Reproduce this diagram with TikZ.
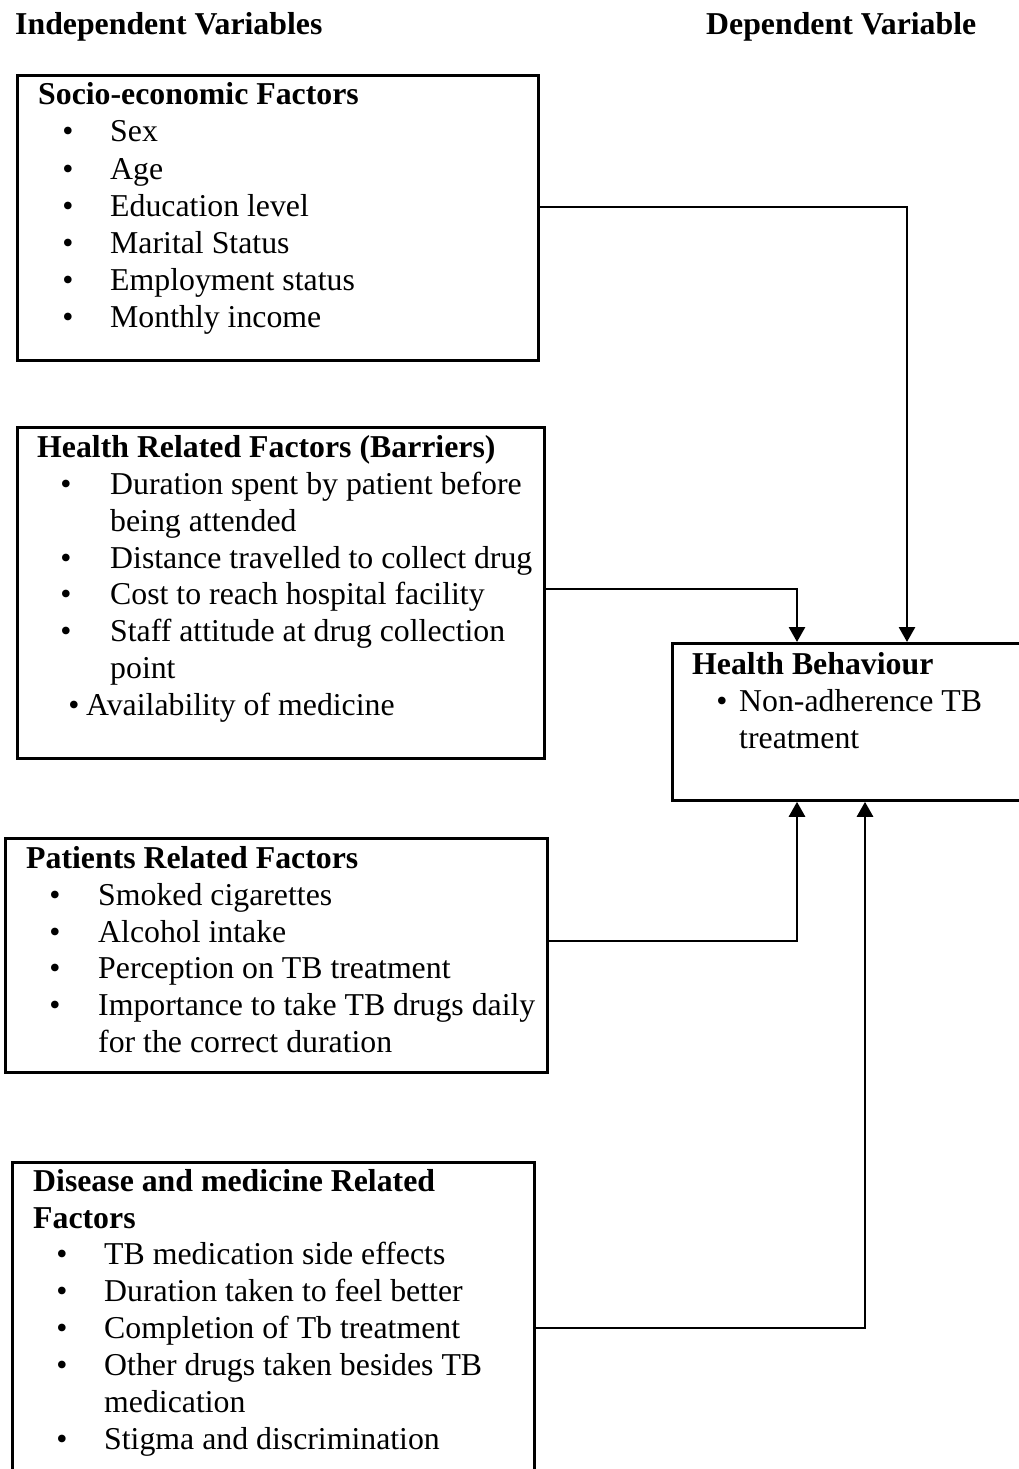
\documentclass[tikz,border=0pt]{standalone}
\usepackage{fontspec}
\setmainfont{Liberation Serif}
\usetikzlibrary{arrows.meta}
\begin{document}
\begin{tikzpicture}[x=1pt,y=-1pt,
  box/.style={draw, line width=2.8pt, rectangle, inner sep=0pt, anchor=north west},
  txt/.style={inner sep=0pt, anchor=base west, font=\fontsize{31.8}{37}\selectfont},
  hdr/.style={inner sep=0pt, anchor=base west, font=\fontsize{31.8}{37}\selectfont\bfseries},
  bul/.style={inner sep=0pt, anchor=base, font=\fontsize{31.8}{37}\selectfont},
  arr/.style={line width=2.8pt, -{Triangle[width=16pt,length=15pt]}}]
\fill[white] (0,0) rectangle (1019,1469);
\useasboundingbox (0,0) rectangle (1019,1469);

% headers
\node[hdr] (hind) at (15,35) {Independent Variables};
\node[hdr] (hdep) at (706,35) {Dependent Variable};

% boxes
\node[box, minimum width=521pt, minimum height=285pt] (b1) at (16,74) {};
\node[box, minimum width=527pt, minimum height=331pt] (b2) at (16,426) {};
\node[box, minimum width=360pt, minimum height=157pt] (hb) at (671,642) {};
\node[box, minimum width=542pt, minimum height=234pt] (b3) at (4,837) {};
\node[box, minimum width=522pt, minimum height=330pt] (b4) at (11,1161) {};

% box 1
\node[hdr] (t1) at (38,105) {Socio-economic Factors};
\node[bul] (b1a) at (68,142) {•}; \node[txt] (i1a) at (110,142) {Sex};
\node[bul] (b1b) at (68,179) {•}; \node[txt] (i1b) at (110,179) {Age};
\node[bul] (b1c) at (68,216) {•}; \node[txt] (i1c) at (110,216) {Education level};
\node[bul] (b1d) at (68,253) {•}; \node[txt] (i1d) at (110,253) {Marital Status};
\node[bul] (b1e) at (68,290) {•}; \node[txt] (i1e) at (110,290) {Employment status};
\node[bul] (b1f) at (68,327) {•}; \node[txt] (i1f) at (110,327) {Monthly income};

% box 2
\node[hdr] (t2) at (37,457) {Health Related Factors (Barriers)};
\node[bul] (b2a) at (66,494) {•}; \node[txt] (i2a) at (110,494) {Duration spent by patient before};
\node[txt] (i2a2) at (110,531) {being attended};
\node[bul] (b2b) at (66,568) {•}; \node[txt] (i2b) at (110,568) {Distance travelled to collect drug};
\node[bul] (b2c) at (66,604) {•}; \node[txt] (i2c) at (110,604) {Cost to reach hospital facility};
\node[bul] (b2d) at (66,641) {•}; \node[txt] (i2d) at (110,641) {Staff attitude at drug collection};
\node[txt] (i2d2) at (110,678) {point};
\node[bul] (b2e) at (74,715) {•}; \node[txt] (i2e) at (86,715) {Availability of medicine};

% health behaviour
\node[hdr] (thb) at (692,674) {Health Behaviour};
\node[bul] (bhb) at (722,711) {•}; \node[txt] (ihb) at (739,711) {Non-adherence TB};
\node[txt] (ihb2) at (739,748) {treatment};

% box 3
\node[hdr] (t3) at (26,868) {Patients Related Factors};
\node[bul] (b3a) at (55,905) {•}; \node[txt] (i3a) at (98,905) {Smoked cigarettes};
\node[bul] (b3b) at (55,942) {•}; \node[txt] (i3b) at (98,942) {Alcohol intake};
\node[bul] (b3c) at (55,978) {•}; \node[txt] (i3c) at (98,978) {Perception on TB treatment};
\node[bul] (b3d) at (55,1015) {•}; \node[txt] (i3d) at (98,1015) {Importance to take TB drugs daily};
\node[txt] (i3d2) at (98,1052) {for the correct duration};

% box 4
\node[hdr] (t4) at (33,1191) {Disease and medicine Related};
\node[hdr] (t4b) at (33,1228) {Factors};
\node[bul] (b4a) at (62,1264) {•}; \node[txt] (i4a) at (104,1264) {TB medication side effects};
\node[bul] (b4b) at (62,1301) {•}; \node[txt] (i4b) at (104,1301) {Duration taken to feel better};
\node[bul] (b4c) at (62,1338) {•}; \node[txt] (i4c) at (104,1338) {Completion of Tb treatment};
\node[bul] (b4d) at (62,1375) {•}; \node[txt] (i4d) at (104,1375) {Other drugs taken besides TB};
\node[txt] (i4d2) at (104,1412) {medication};
\node[bul] (b4e) at (62,1449) {•}; \node[txt] (i4e) at (104,1449) {Stigma and discrimination};

% connectors
\coordinate (k1) at (907,207);
\coordinate (k2) at (797,589);
\coordinate (k3) at (797,941);
\coordinate (k4) at (865,1328);
\draw[arr] (b1.east |- k1) -| (hb.north -| k1);
\draw[arr] (b2.east |- k2) -| (hb.north -| k2);
\draw[arr] (b3.east |- k3) -| (hb.south -| k3);
\draw[arr] (b4.east |- k4) -| (hb.south -| k4);
\end{tikzpicture}
\end{document}
